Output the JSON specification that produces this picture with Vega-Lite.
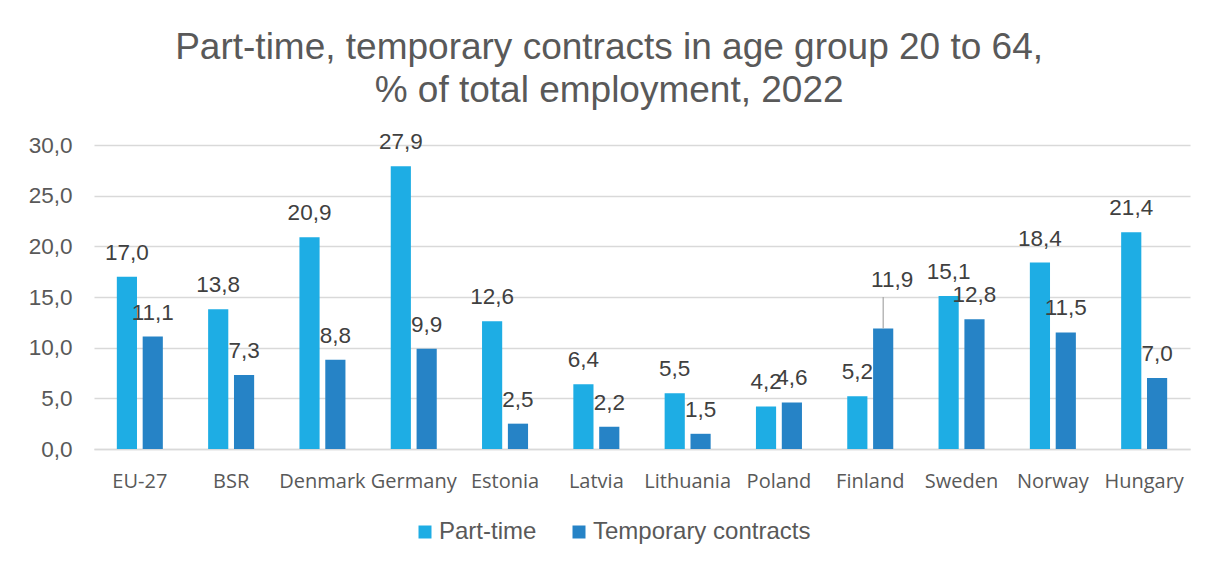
{
  "$schema": "https://vega.github.io/schema/vega-lite/v6.json",
  "autosize": {"type": "none"},
  "width": 1096,
  "height": 304,
  "padding": {"left": 94, "top": 145, "right": 24, "bottom": 118},
  "background": "white",
  "title": {
    "text": ["Part-time, temporary contracts in age group 20 to 64,", "% of total employment, 2022"],
    "font": "Liberation Sans",
    "fontSize": 37,
    "fontWeight": "normal",
    "color": "#595959",
    "lineHeight": 43,
    "anchor": "middle",
    "frame": "bounds",
    "offset": 21
  },
  "config": {
    "locale": {"number": {"decimal": ",", "thousands": " ", "grouping": [3], "currency": ["", " €"]}},
    "view": {"stroke": null},
    "font": "Liberation Sans"
  },
  "data": {
    "values": [
      {"country": "EU-27", "series": "Part-time", "value": 17.0},
      {"country": "EU-27", "series": "Temporary contracts", "value": 11.1},
      {"country": "BSR", "series": "Part-time", "value": 13.8},
      {"country": "BSR", "series": "Temporary contracts", "value": 7.3},
      {"country": "Denmark", "series": "Part-time", "value": 20.9},
      {"country": "Denmark", "series": "Temporary contracts", "value": 8.8},
      {"country": "Germany", "series": "Part-time", "value": 27.9},
      {"country": "Germany", "series": "Temporary contracts", "value": 9.9},
      {"country": "Estonia", "series": "Part-time", "value": 12.6},
      {"country": "Estonia", "series": "Temporary contracts", "value": 2.5},
      {"country": "Latvia", "series": "Part-time", "value": 6.4},
      {"country": "Latvia", "series": "Temporary contracts", "value": 2.2},
      {"country": "Lithuania", "series": "Part-time", "value": 5.5},
      {"country": "Lithuania", "series": "Temporary contracts", "value": 1.5},
      {"country": "Poland", "series": "Part-time", "value": 4.2},
      {"country": "Poland", "series": "Temporary contracts", "value": 4.6},
      {"country": "Finland", "series": "Part-time", "value": 5.2},
      {"country": "Finland", "series": "Temporary contracts", "value": 11.9},
      {"country": "Sweden", "series": "Part-time", "value": 15.1},
      {"country": "Sweden", "series": "Temporary contracts", "value": 12.8},
      {"country": "Norway", "series": "Part-time", "value": 18.4},
      {"country": "Norway", "series": "Temporary contracts", "value": 11.5},
      {"country": "Hungary", "series": "Part-time", "value": 21.4},
      {"country": "Hungary", "series": "Temporary contracts", "value": 7.0}
    ]
  },
  "encoding": {
    "x": {
      "field": "country",
      "type": "nominal",
      "sort": null,
      "scale": {"paddingInner": 0.496, "paddingOuter": 0.25},
      "axis": {
        "title": null,
        "labelAngle": 0,
        "labelFont": "Open Sans",
        "labelFontSize": 20,
        "labelColor": "#595959",
        "labelPadding": 22,
        "ticks": false,
        "domainColor": "#D9D9D9",
        "domainWidth": 1.5,
        "labelOverlap": false
      }
    },
    "xOffset": {"field": "series", "type": "nominal", "scale": {"paddingInner": 0.22}},
    "y": {
      "field": "value",
      "type": "quantitative",
      "scale": {"domain": [0, 30]},
      "axis": {
        "title": null,
        "values": [0, 5, 10, 15, 20, 25, 30],
        "format": ".1f",
        "labelFontSize": 22.5,
        "labelColor": "#595959",
        "labelPadding": 22,
        "ticks": false,
        "domain": false,
        "gridColor": "#D9D9D9",
        "gridWidth": 1.5,
        "minExtent": 60,
        "maxExtent": 60
      }
    }
  },
  "layer": [
    {
      "mark": {"type": "bar"},
      "encoding": {
        "color": {
          "field": "series",
          "type": "nominal",
          "scale": {"domain": ["Part-time", "Temporary contracts"], "range": ["#1EADE4", "#2683C6"]},
          "legend": {
            "title": null,
            "orient": "none",
            "direction": "horizontal",
            "legendX": 319,
            "legendY": 375,
            "symbolType": "square",
            "symbolSize": 169,
            "symbolStrokeWidth": 0,
            "labelFontSize": 24,
            "labelColor": "#595959",
            "labelLimit": 400,
            "columnPadding": 30,
            "labelOffset": 2
          }
        }
      }
    },
    {
      "transform": [{"filter": "!(datum.country === 'Finland' && datum.series === 'Temporary contracts')"}],
      "mark": {"type": "text", "baseline": "alphabetic", "dy": -17, "fontSize": 22.5, "color": "#404040"},
      "encoding": {
        "text": {"field": "value", "type": "quantitative", "format": ".1f"}
      }
    },
    {
      "transform": [{"filter": "datum.country === 'Finland' && datum.series === 'Temporary contracts'"}],
      "mark": {"type": "rule", "color": "#A6A6A6", "strokeWidth": 1.2},
      "encoding": {
        "y2": {"datum": 15}
      }
    },
    {
      "transform": [{"filter": "datum.country === 'Finland' && datum.series === 'Temporary contracts'"}],
      "mark": {"type": "text", "baseline": "alphabetic", "dy": -41, "dx": 9, "fontSize": 22.5, "color": "#404040"},
      "encoding": {
        "text": {"field": "value", "type": "quantitative", "format": ".1f"}
      }
    }
  ]
}
